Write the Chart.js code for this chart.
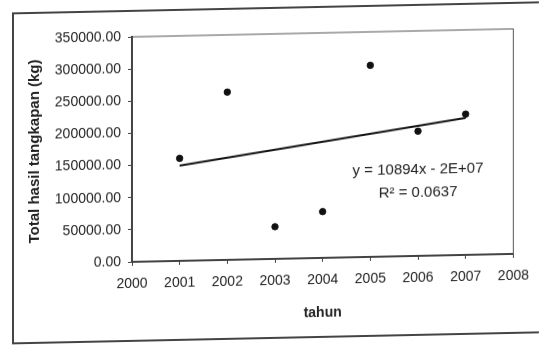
<!DOCTYPE html>
<html lang="id">
<head>
    <meta charset="UTF-8">
    <title>Total hasil tangkapan</title>
    <script src="https://cdn.jsdelivr.net/npm/chart.js"></script>
    <style>
        html, body { margin: 0; padding: 0; background: #fff; }
        #chart { display: block; transform: skewY(-1.2deg); }
    </style>
</head>
<body>
    <canvas id="chart" width="539" height="346"></canvas>

    <script>
        // data
        const years = [2001, 2002, 2003, 2004, 2005, 2006, 2007];
        const catchKg = [159500, 261000, 50000, 72000, 298000, 194000, 219000];
        const trendYears = [2001, 2007];
        const trendKg = [148000, 213000];
        const xTickValues = [2000, 2001, 2002, 2003, 2004, 2005, 2006, 2007, 2008];
        const yTickValues = [0, 50000, 100000, 150000, 200000, 250000, 300000, 350000];
        const equationLines = ['y = 10894x - 2E+07', 'R\u00B2 = 0.0637'];

        const FONT = '"Liberation Sans", Arial, sans-serif';
        const INK = '#222';

        // outer frame of the figure and thin box round the plot
        const framePlugin = {
            id: 'frame',
            beforeDraw(chart) {
                const ctx = chart.ctx;
                ctx.save();
                ctx.strokeStyle = '#444';
                ctx.lineWidth = 2;
                ctx.strokeRect(13, 8, 560, 330);
                ctx.restore();
            },
            beforeDatasetsDraw(chart) {
                const a = chart.chartArea;
                const ctx = chart.ctx;
                ctx.save();
                ctx.strokeStyle = '#555';
                ctx.lineWidth = 1;
                ctx.strokeRect(a.left, a.top, a.right - a.left, a.bottom - a.top);
                ctx.restore();
            }
        };

        // trendline equation, anchored in data space
        const equationPlugin = {
            id: 'equation',
            afterDatasetsDraw(chart) {
                const ctx = chart.ctx;
                const x = chart.scales.x.getPixelForValue(2006);
                ctx.save();
                ctx.fillStyle = INK;
                ctx.font = '15px ' + FONT;
                ctx.textAlign = 'center';
                ctx.textBaseline = 'middle';
                ctx.fillText(equationLines[0], x, chart.scales.y.getPixelForValue(134000));
                ctx.fillText(equationLines[1], x, chart.scales.y.getPixelForValue(98000));
                ctx.restore();
            }
        };

        const ctx = document.getElementById('chart').getContext('2d');
        new Chart(ctx, {
            type: 'scatter',
            data: {
                datasets: [{
                    label: 'Total hasil tangkapan',
                    data: years.map((yr, i) => ({ x: yr, y: catchKg[i] })),
                    backgroundColor: '#111',
                    borderColor: '#111',
                    pointRadius: 3.2,
                    pointHoverRadius: 3.2
                }, {
                    label: 'Linear',
                    type: 'line',
                    data: trendYears.map((yr, i) => ({ x: yr, y: trendKg[i] })),
                    borderColor: '#111',
                    borderWidth: 2,
                    pointRadius: 0,
                    fill: false
                }]
            },
            options: {
                responsive: false,
                animation: false,
                layout: { padding: { left: 13, right: 21, top: 34, bottom: 9 } },
                plugins: {
                    legend: { display: false },
                    tooltip: { enabled: false }
                },
                scales: {
                    x: {
                        type: 'linear',
                        min: 2000,
                        max: 2008,
                        afterBuildTicks: scale => { scale.ticks = xTickValues.map(v => ({ value: v })); },
                        afterFit: scale => { scale.height = 78; },
                        grid: { drawOnChartArea: false, drawTicks: true, tickLength: 4, color: '#444' },
                        border: { display: true, width: 2, color: '#333' },
                        ticks: {
                            color: INK,
                            padding: 10,
                            maxRotation: 0,
                            font: { family: FONT, size: 14 },
                            callback: value => String(value)
                        },
                        title: {
                            display: true,
                            text: 'tahun',
                            color: INK,
                            font: { family: FONT, size: 14, weight: 'bold' },
                            padding: { top: 4, bottom: 14 }
                        }
                    },
                    y: {
                        min: 0,
                        max: 350000,
                        afterBuildTicks: scale => { scale.ticks = yTickValues.map(v => ({ value: v })); },
                        afterFit: scale => { scale.width = 119; },
                        grid: { drawOnChartArea: false, drawTicks: true, tickLength: 4, color: '#444' },
                        border: { display: true, width: 2, color: '#333' },
                        ticks: {
                            color: INK,
                            padding: 7,
                            font: { family: FONT, size: 14 },
                            callback: value => Number(value).toFixed(2)
                        },
                        title: {
                            display: true,
                            text: 'Total hasil tangkapan (kg)',
                            color: INK,
                            font: { family: FONT, size: 15, weight: 'bold' },
                            padding: { top: 13, bottom: 4 }
                        }
                    }
                }
            },
            plugins: [framePlugin, equationPlugin]
        });
    </script>
</body>
</html>
